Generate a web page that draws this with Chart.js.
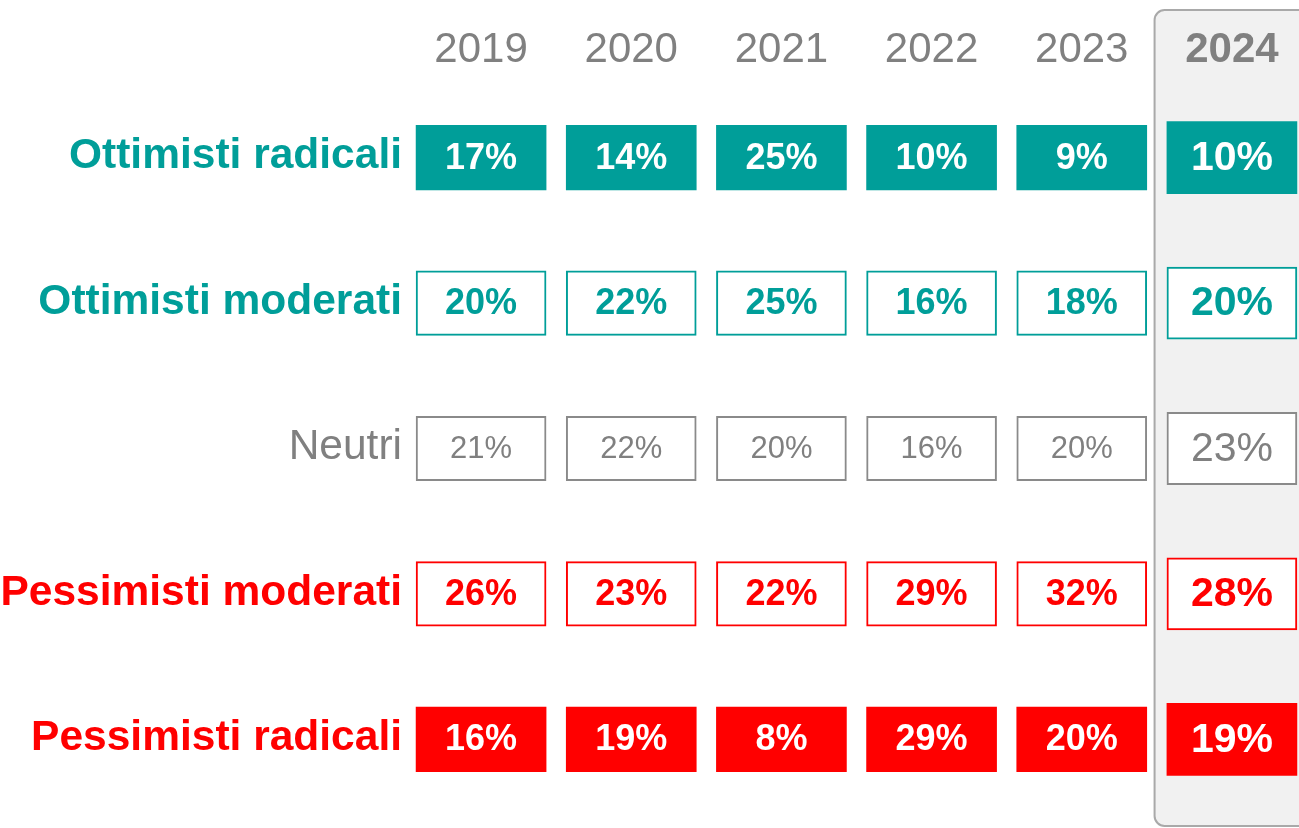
<!DOCTYPE html>
<html>
<head>
<meta charset="utf-8">
<script src="https://cdn.jsdelivr.net/npm/chart.js@4/dist/chart.umd.min.js"></script>
<style>
  html, body { margin: 0; padding: 0; background: #ffffff; overflow: hidden; }
  #wrap { width: 1307px; height: 828px; }
</style>
</head>
<body>
<div id="wrap"><canvas id="c" width="1307" height="828"></canvas></div>
<script>
// ---- data ----
const years = ['2019', '2020', '2021', '2022', '2023', '2024'];
const rowLabels = ['Ottimisti radicali', 'Ottimisti moderati', 'Neutri', 'Pessimisti moderati', 'Pessimisti radicali'];
const ottimistiRadicali  = [17, 14, 25, 10, 9, 10];
const ottimistiModerati  = [20, 22, 25, 16, 18, 20];
const neutri             = [21, 22, 20, 16, 20, 23];
const pessimistiModerati = [26, 23, 22, 29, 32, 28];
const pessimistiRadicali = [16, 19, 8, 29, 20, 19];
const seriesValues = [ottimistiRadicali, ottimistiModerati, neutri, pessimistiModerati, pessimistiRadicali];

// ---- styles ----
const TEAL = '#009e99';
const RED = '#ff0000';
const GREY = '#808080';
const FONT = '"Liberation Sans", Arial, Helvetica, sans-serif';
const rowStyle = [
  { fill: TEAL, border: TEAL, filled: true, text: '#ffffff', bold: true, label: TEAL },
  { fill: '#ffffff', border: TEAL, filled: false, text: TEAL, bold: true, label: TEAL },
  { fill: '#ffffff', border: '#8a8a8a', filled: false, text: GREY, bold: false, label: GREY },
  { fill: '#ffffff', border: RED, filled: false, text: RED, bold: true, label: RED },
  { fill: RED, border: RED, filled: true, text: '#ffffff', bold: true, label: RED }
];
const LAST = years.length - 1;
const halfH = i => (i === LAST ? 0.248 : 0.222);

const datasets = seriesValues.map((vals, r) => ({
  label: rowLabels[r],
  data: vals.map((v, i) => [r - halfH(i), r + halfH(i)]),
  values: vals,
  backgroundColor: rowStyle[r].fill,
  borderColor: rowStyle[r].border,
  borderWidth: rowStyle[r].filled ? 0 : 2,
  borderSkipped: false,
  grouped: false,
  barThickness: 130
}));

const panelPlugin = {
  id: 'panel2024',
  beforeDraw(chart) {
    const x = chart.scales.x;
    const cx = x.getPixelForValue(LAST);
    const cw = x.width / years.length;
    const left = cx - cw * 0.515, top = 10, right = chart.width + 20, bottom = chart.height - 2;
    const ctx = chart.ctx;
    ctx.save();
    ctx.beginPath();
    ctx.roundRect(left, top, right - left, bottom - top, 10);
    ctx.fillStyle = '#f1f1f1';
    ctx.fill();
    ctx.lineWidth = 2;
    ctx.strokeStyle = '#a9a9a9';
    ctx.stroke();
    ctx.restore();
  }
};

const valueLabels = {
  id: 'valueLabels',
  afterDatasetsDraw(chart) {
    const ctx = chart.ctx;
    ctx.save();
    ctx.textAlign = 'center';
    ctx.textBaseline = 'middle';
    chart.data.datasets.forEach((ds, r) => {
      const meta = chart.getDatasetMeta(r);
      const st = rowStyle[r];
      meta.data.forEach((el, i) => {
        const p = el.getCenterPoint();
        let size;
        if (i === LAST) size = 41;
        else size = st.bold ? 36 : 31;
        ctx.font = (st.bold ? 'bold ' : '') + size + 'px ' + FONT;
        ctx.fillStyle = st.text;
        ctx.fillText(ds.values[i] + '%', p.x, p.y + 1);
      });
    });
    ctx.restore();
  }
};

new Chart(document.getElementById('c'), {
  type: 'bar',
  data: { labels: years, datasets },
  options: {
    responsive: false,
    animation: false,
    devicePixelRatio: 1,
    layout: { padding: { left: 0, right: 0, top: 0, bottom: 16 } },
    plugins: { legend: { display: false }, tooltip: { enabled: false } },
    scales: {
      x: {
        position: 'top',
        offset: true,
        grid: { display: false, drawTicks: false },
        border: { display: false },
        afterFit(s) { s.height = 85; s.paddingLeft = 0; s.paddingRight = 0; },
        ticks: {
          padding: 9,
          color: GREY,
          font: ctx => ({ family: FONT, size: 42, weight: ctx.index === LAST ? 'bold' : 'normal' })
        }
      },
      y: {
        type: 'linear',
        reverse: true,
        min: -0.5,
        max: rowLabels.length - 0.5,
        grid: { display: false, drawTicks: false },
        border: { display: false },
        afterFit(s) { s.width = 406; s.paddingTop = 0; s.paddingBottom = 0; },
        afterBuildTicks(s) { s.ticks = rowLabels.map((_, i) => ({ value: i })); },
        ticks: {
          padding: 4,
          labelOffset: -1,
          autoSkip: false,
          callback: v => rowLabels[v],
          color: ctx => rowStyle[ctx.index] ? rowStyle[ctx.index].label : GREY,
          font: ctx => ({ family: FONT, size: 42.5, weight: (rowStyle[ctx.index] && rowStyle[ctx.index].bold) ? 'bold' : 'normal' })
        }
      }
    }
  },
  plugins: [panelPlugin, valueLabels]
});
</script>
</body>
</html>
